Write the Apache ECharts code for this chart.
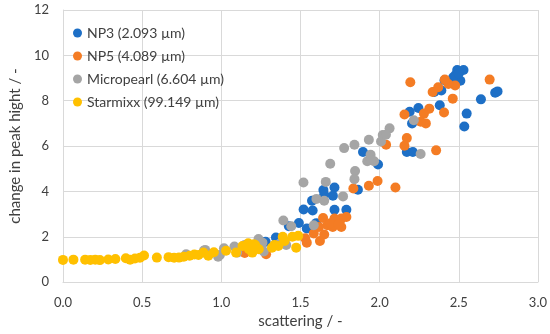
<!DOCTYPE html>
<html>
<head>
<meta charset="utf-8">
<script src="https://cdn.jsdelivr.net/npm/echarts@6/dist/echarts.min.js"></script>
<style>html,body{margin:0;padding:0;background:#fff}#c{width:550px;height:334px}</style>
</head>
<body>
<div id="c"></div>
<script>
var seriesNames = ['NP3 (2.093 µm)', 'NP5 (4.089 µm)', 'Micropearl (6.604 µm)', 'Starmixx (99.149 µm)'];
var colors = ['#1d6fc6', '#f47c24', '#a5a5a5', '#ffc000'];
var xTicks = [0, 0.5, 1.0, 1.5, 2.0, 2.5, 3.0];
var yTicks = [0, 2, 4, 6, 8, 10, 12];

var np3 = [[2.73,8.35],[2.745,8.41],[2.64,8.06],[2.55,7.43],[2.535,6.86],[2.49,9.35],[2.53,9.35],[2.48,9.13],[2.51,8.88],[2.465,9.03],[2.5,9.2],[2.41,8.9],[2.38,7.8],[2.39,8.45],[2.345,8.38],[2.245,7.68],[2.19,7.51],[2.205,7.0],[2.172,5.74],[2.21,5.74],[1.895,5.74],[1.99,5.19],[1.863,4.07],[1.79,3.19],[1.715,3.19],[1.715,4.17],[1.705,3.81],[1.645,4.06],[1.65,3.85],[1.573,3.59],[1.577,3.16],[1.52,3.2],[1.49,2.61],[1.54,2.36],[1.427,2.46],[1.345,1.97],[1.28,1.78],[1.25,1.7],[1.6,2.6]];
var np5 = [[2.695,8.93],[2.194,8.81],[2.462,8.09],[2.477,8.67],[2.434,8.74],[2.412,8.93],[2.37,8.59],[2.335,8.38],[2.314,7.65],[2.28,7.43],[2.292,7.0],[2.26,7.07],[2.407,7.48],[2.157,7.39],[2.172,6.35],[2.157,6.01],[2.357,5.81],[2.041,6.06],[2.1,4.17],[1.987,4.46],[1.932,4.25],[1.834,4.13],[1.79,2.87],[1.758,2.8],[1.643,2.83],[1.671,2.51],[1.704,2.43],[1.758,2.43],[1.715,2.8],[1.617,2.43],[1.584,2.14],[1.65,2.1],[1.623,1.81],[1.54,1.74],[1.53,1.93],[1.283,1.23],[1.148,1.28],[1.69,2.6],[1.74,2.55]];
var micropearl = [[2.259,5.65],[2.216,7.14],[2.063,6.78],[2.02,6.49],[2.009,6.2],[2.04,6.5],[1.932,6.28],[1.841,6.06],[1.776,5.91],[1.943,5.62],[1.922,5.33],[1.965,5.33],[1.945,5.4],[1.688,5.22],[1.845,4.9],[1.841,4.54],[1.519,4.39],[1.66,4.42],[1.769,3.78],[1.601,3.67],[1.65,3.59],[1.584,2.51],[1.392,2.72],[1.442,2.46],[1.41,1.64],[1.37,1.7],[1.235,1.9],[1.26,1.74],[1.268,1.35],[1.148,1.64],[1.083,1.57],[1.1,1.3],[1.017,1.49],[0.991,1.2],[0.98,1.12],[0.898,1.42],[0.89,1.38],[0.778,1.23]];
var starmixx = [[0,0.98],[0.066,0.99],[0.14,0.99],[0.173,0.98],[0.204,0.99],[0.233,0.97],[0.286,1.0],[0.331,1.02],[0.397,1.05],[0.424,0.99],[0.455,1.04],[0.486,1.07],[0.512,1.17],[0.593,1.08],[0.667,1.1],[0.702,1.07],[0.733,1.08],[0.763,1.12],[0.8,1.16],[0.83,1.22],[0.856,1.2],[0.887,1.3],[0.918,1.16],[0.953,1.32],[1.03,1.38],[1.093,1.3],[1.134,1.59],[1.175,1.45],[1.206,1.67],[1.237,1.45],[1.196,1.3],[1.17,1.71],[1.19,1.5],[1.214,1.64],[1.32,1.52],[1.36,1.59],[1.40,1.81],[1.388,2.0],[1.449,2.0],[1.473,1.52],[1.486,2.04],[1.335,1.64]];

var allData = [np3, np5, micropearl, starmixx];
var font = 'Lato, "Open Sans", sans-serif';
var chart = echarts.init(document.getElementById('c'), null, {renderer: 'canvas'});
var gridColor = '#d9d9d9';
chart.setOption({
  animation: false,
  color: colors,
  textStyle: {fontFamily: font},
  grid: {left: 53, right: 12, top: 10, bottom: 48, containLabel: false},
  legend: {
    orient: 'vertical', left: 68, top: 21, itemWidth: 9, itemHeight: 9, itemGap: 9,
    icon: 'circle', data: seriesNames,
    textStyle: {fontSize: 14, color: '#404040', fontFamily: font}
  },
  xAxis: {
    type: 'value', min: xTicks[0], max: xTicks[xTicks.length - 1], interval: 0.5,
    name: 'scattering / -', nameLocation: 'middle', nameGap: 31,
    nameTextStyle: {fontSize: 15, color: '#404040', fontFamily: font},
    axisLine: {show: true, lineStyle: {color: gridColor}},
    axisTick: {show: false},
    axisLabel: {fontSize: 13, color: '#404040', margin: 14, formatter: function (v) { return v.toFixed(1); }},
    splitLine: {show: true, lineStyle: {color: gridColor, width: 1}}
  },
  yAxis: {
    type: 'value', min: yTicks[0], max: yTicks[yTicks.length - 1], interval: 2,
    name: 'change in peak hight / -', nameLocation: 'middle', nameGap: 33,
    nameTextStyle: {fontSize: 15, color: '#404040', fontFamily: font},
    axisLine: {show: true, lineStyle: {color: gridColor}},
    axisTick: {show: false},
    axisLabel: {fontSize: 13, color: '#404040', margin: 14},
    splitLine: {show: true, lineStyle: {color: gridColor, width: 1}}
  },
  series: seriesNames.map(function (n, i) {
    return {
      name: n, type: 'scatter', data: allData[i], symbol: 'circle', symbolSize: 10,
      itemStyle: {color: colors[i], opacity: 1}
    };
  })
});
</script>
</body>
</html>
